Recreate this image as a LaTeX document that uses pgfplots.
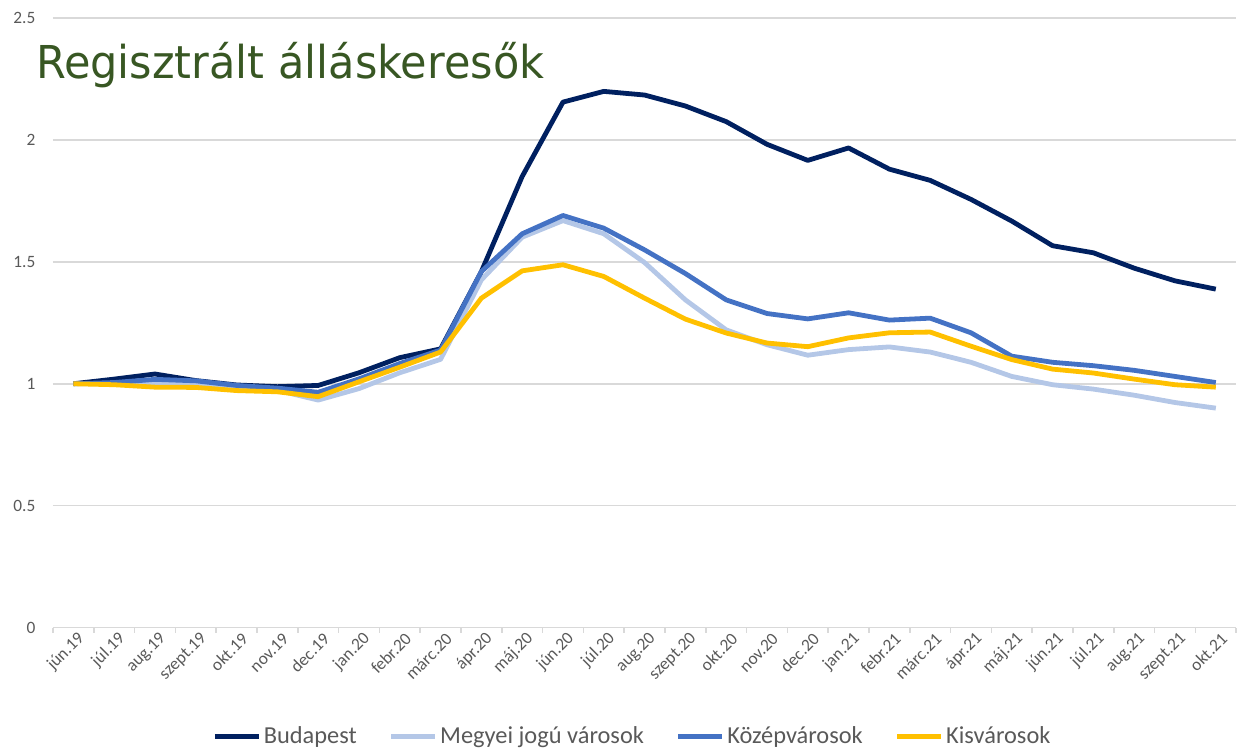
\documentclass[border=0pt]{standalone}
\usepackage{pgfplots}
\usepackage{pgfplotstable}
\usepackage{fontspec}
\pgfplotsset{compat=1.18}
\setmainfont{Carlito}
\newfontfamily\titlefont{DejaVu Sans}

\definecolor{budapest}{HTML}{002060}
\definecolor{megyei}{HTML}{B4C7E7}
\definecolor{kozep}{HTML}{4472C4}
\definecolor{kis}{HTML}{FFC000}
\definecolor{gridgray}{HTML}{D9D9D9}
\definecolor{labelgray}{HTML}{595959}
\definecolor{titlegreen}{HTML}{385723}

% month index, Budapest, Megyei jogu varosok, Kozepvarosok, Kisvarosok
\pgfplotstableread{
x  bp     mj     kv     ks
0  1.000  1.000  1.000  1.000
1  1.019  1.000  1.005  0.996
2  1.040  1.005  1.018  0.986
3  1.013  1.003  1.012  0.985
4  0.995  0.986  0.993  0.972
5  0.988  0.973  0.982  0.967
6  0.993  0.933  0.965  0.947
7  1.045  0.980  1.020  1.008
8  1.107  1.045  1.083  1.068
9  1.143  1.100  1.138  1.130
10 1.460  1.426  1.460  1.351
11 1.850  1.601  1.615  1.463
12 2.155  1.669  1.690  1.488
13 2.199  1.615  1.638  1.440
14 2.184  1.497  1.549  1.351
15 2.139  1.344  1.452  1.265
16 2.075  1.221  1.344  1.208
17 1.982  1.160  1.288  1.167
18 1.916  1.117  1.266  1.152
19 1.967  1.140  1.291  1.188
20 1.880  1.151  1.261  1.209
21 1.834  1.130  1.269  1.212
22 1.756  1.088  1.209  1.154
23 1.667  1.030  1.113  1.099
24 1.566  0.996  1.088  1.060
25 1.537  0.978  1.074  1.044
26 1.474  0.953  1.055  1.019
27 1.422  0.923  1.030  0.996
28 1.388  0.900  1.005  0.986
}\datatable

\begin{document}
\begin{tikzpicture}
\begin{axis}[
    scale only axis,
    width=888pt, height=457.5pt,
    xmin=-0.5, xmax=28.5,
    ymin=0, ymax=2.5,
    clip=false,
    axis x line*=bottom,
    axis y line*=left,
    y axis line style={draw=none},
    x axis line style={draw=gridgray, line width=1.2pt},
    ytick={0,0.5,1,1.5,2,2.5},
    yticklabels={0,0.5,1,1.5,2,2.5},
    ymajorgrids,
    grid style={gridgray, line width=1.2pt},
    xtick={0,...,28},
    xticklabels={jún.19,júl.19,aug.19,szept.19,okt.19,nov.19,dec.19,
        jan.20,febr.20,márc.20,ápr.20,máj.20,jún.20,júl.20,aug.20,szept.20,
        okt.20,nov.20,dec.20,jan.21,febr.21,márc.21,ápr.21,máj.21,jún.21,
        júl.21,aug.21,szept.21,okt.21},
    minor xtick={-0.5,0.5,...,28.5},
    major tick length=0pt,
    minor tick length=4pt,
    tick align=outside,
    every minor tick/.append style={draw=gridgray, line width=1.2pt},
    every major tick/.append style={draw=none},
    /pgf/number format/assume math mode=true,
    ticklabel style={font=\fontsize{13}{15}\selectfont, text=labelgray},
    xticklabel style={rotate=45, anchor=east, inner sep=1pt, yshift=-9pt, xshift=1pt},
    yticklabel style={anchor=east, inner sep=0pt, xshift=-13pt},
    legend columns=4,
    legend style={at={(rel axis cs:0.49,-0.1787)}, anchor=center, draw=none, fill=none,
        font=\fontsize{18.3}{20}\selectfont, text=labelgray,
        /tikz/every even column/.append style={column sep=22pt},
        inner sep=0pt},
    legend image code/.code={\draw[#1] (0pt,0pt) -- (33pt,0pt);},
    every axis plot/.append style={line width=3.6pt, line join=round},
]
\addplot[budapest] table[x=x, y=bp] {\datatable};
\addlegendentry{Budapest}
\addplot[megyei] table[x=x, y=mj] {\datatable};
\addlegendentry{Megyei jogú városok}
\addplot[kozep] table[x=x, y=kv] {\datatable};
\addlegendentry{Középvárosok}
\addplot[kis] table[x=x, y=ks] {\datatable};
\addlegendentry{Kisvárosok}

\node[anchor=base west, inner sep=0pt, text=titlegreen]
    at (rel axis cs:-0.0144,0.9) {\scalebox{0.95}[1]{\titlefont\fontsize{34}{34}\selectfont Regisztrált álláskeresők}};

\path (rel axis cs:-0.04476,-0.19672) rectangle (rel axis cs:1,1.02951);
\end{axis}
\end{tikzpicture}
\end{document}
